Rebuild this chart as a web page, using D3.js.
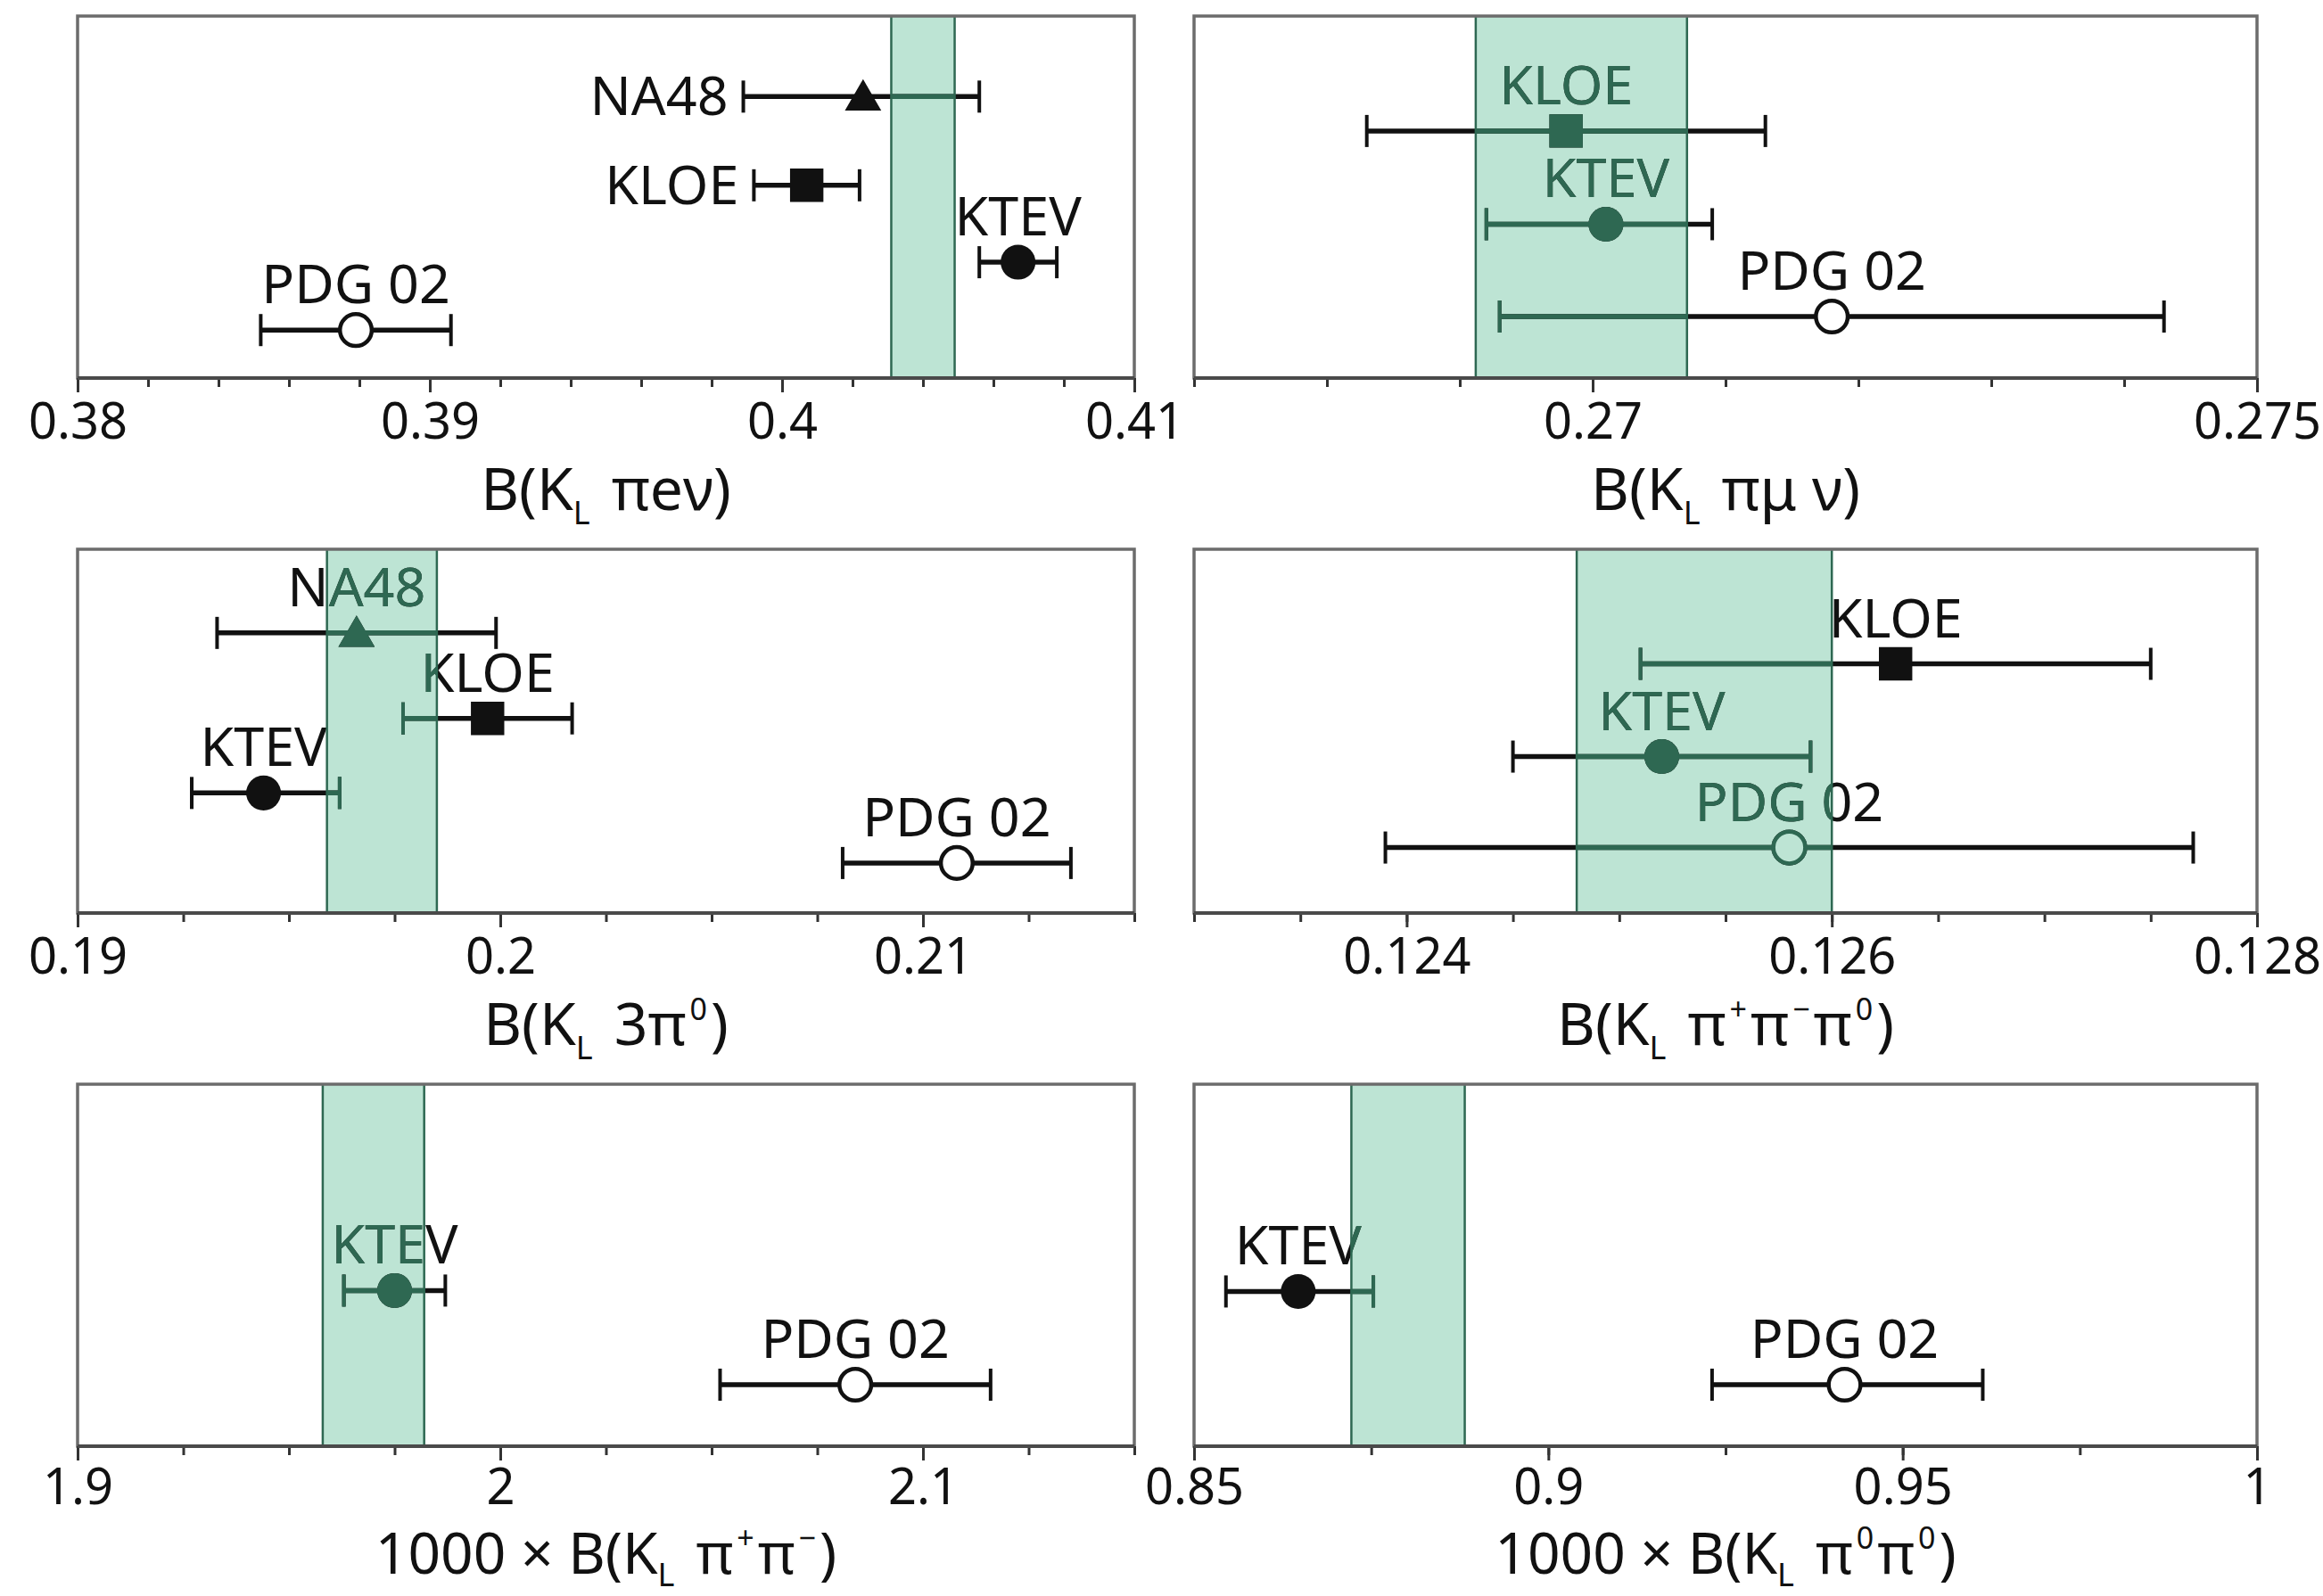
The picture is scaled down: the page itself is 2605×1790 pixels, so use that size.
<!DOCTYPE html>
<html>
<head>
<meta charset="utf-8">
<script src="https://cdn.jsdelivr.net/npm/d3@7"></script>
<style>
  body { margin: 0; background: #fff; }
  text { font-family: "Noto Sans", "Open Sans", sans-serif; white-space: pre; }
</style>
</head>
<body>
<svg id="chart" width="2605" height="1790"></svg>
<script>
// ---- K_L branching ratios: measurements vs. PDG 2002 and the global fit band ----

// B(K_L -> pi e nu)
const keNames = ["NA48", "KLOE", "KTEV", "PDG 02"];
const keValue = [0.4023, 0.4007, 0.4067, 0.3879];
const keLow   = [0.3989, 0.3992, 0.4056, 0.3852];
const keHigh  = [0.4056, 0.4022, 0.4078, 0.3906];
const keRow   = [0.89, 1.87, 2.72, 3.47];
const keFit   = [0.4031, 0.4049];
const keDomain = [0.38, 0.41];
const keMajor  = [0.38, 0.39, 0.40, 0.41];
const keMajorText = ["0.38", "0.39", "0.4", "0.41"];

// B(K_L -> pi mu nu)
const kmNames = ["KLOE", "KTEV", "PDG 02"];
const kmValue = [0.2698, 0.2701, 0.2718];
const kmLow   = [0.2683, 0.2692, 0.2693];
const kmHigh  = [0.2713, 0.2709, 0.2743];
const kmRow   = [1.27, 2.30, 3.32];
const kmFit   = [0.26912, 0.27071];
const kmDomain = [0.267, 0.275];
const kmMajor  = [0.27, 0.275];
const kmMajorText = ["0.27", "0.275"];

// B(K_L -> 3 pi0)
const k3Names = ["NA48", "KLOE", "KTEV", "PDG 02"];
const k3Value = [0.1966, 0.1997, 0.1944, 0.2108];
const k3Low   = [0.1933, 0.1977, 0.1927, 0.2081];
const k3High  = [0.1999, 0.2017, 0.1962, 0.2135];
const k3Row   = [0.92, 1.86, 2.68, 3.45];
const k3Fit   = [0.1959, 0.1985];
const k3Domain = [0.19, 0.215];
const k3Major  = [0.19, 0.20, 0.21];
const k3MajorText = ["0.19", "0.2", "0.21"];

// B(K_L -> pi+ pi- pi0)
const kcNames = ["KLOE", "KTEV", "PDG 02"];
const kcValue = [0.1263, 0.1252, 0.1258];
const kcLow   = [0.1251, 0.1245, 0.1239];
const kcHigh  = [0.1275, 0.1259, 0.1277];
const kcRow   = [1.26, 2.28, 3.28];
const kcFit   = [0.1248, 0.1260];
const kcDomain = [0.123, 0.128];
const kcMajor  = [0.124, 0.126, 0.128];
const kcMajorText = ["0.124", "0.126", "0.128"];

// 1000 x B(K_L -> pi+ pi-)
const kpNames = ["KTEV", "PDG 02"];
const kpValue = [1.975, 2.084];
const kpLow   = [1.963, 2.052];
const kpHigh  = [1.987, 2.116];
const kpRow   = [2.28, 3.32];
const kpFit   = [1.958, 1.982];
const kpDomain = [1.9, 2.15];
const kpMajor  = [1.9, 2.0, 2.1];
const kpMajorText = ["1.9", "2", "2.1"];

// 1000 x B(K_L -> pi0 pi0)
const k0Names = ["KTEV", "PDG 02"];
const k0Value = [0.8647, 0.9418];
const k0Low   = [0.8545, 0.9231];
const k0High  = [0.8753, 0.9613];
const k0Row   = [2.29, 3.32];
const k0Fit   = [0.8722, 0.8882];
const k0Domain = [0.85, 1.0];
const k0Major  = [0.85, 0.90, 0.95, 1.0];
const k0MajorText = ["0.85", "0.9", "0.95", "1"];

// axis titles as [text, role] pieces
const keTitle = [["B(K"], ["L", "sub"], ["πeν)"]];
const kmTitle = [["B(K"], ["L", "sub"], ["πμ ν)"]];
const k3Title = [["B(K"], ["L", "sub"], ["3π"], ["0", "sup"], [")"]];
const kcTitle = [["B(K"], ["L", "sub"], ["π"], ["+", "sup"], ["π"], ["−", "sup"], ["π"], ["0", "sup"], [")"]];
const kpTitle = [["1000 × B(K"], ["L", "sub"], ["π"], ["+", "sup"], ["π"], ["−", "sup"], [")"]];
const k0Title = [["1000 × B(K"], ["L", "sub"], ["π"], ["0", "sup"], ["π"], ["0", "sup"], [")"]];

const panels = [
  { names: keNames, value: keValue, low: keLow, high: keHigh, row: keRow, fit: keFit,
    domain: keDomain, major: keMajor, majorText: keMajorText, minorStep: 0.002, title: keTitle },
  { names: kmNames, value: kmValue, low: kmLow, high: kmHigh, row: kmRow, fit: kmFit,
    domain: kmDomain, major: kmMajor, majorText: kmMajorText, minorStep: 0.001, title: kmTitle },
  { names: k3Names, value: k3Value, low: k3Low, high: k3High, row: k3Row, fit: k3Fit,
    domain: k3Domain, major: k3Major, majorText: k3MajorText, minorStep: 0.0025, title: k3Title },
  { names: kcNames, value: kcValue, low: kcLow, high: kcHigh, row: kcRow, fit: kcFit,
    domain: kcDomain, major: kcMajor, majorText: kcMajorText, minorStep: 0.0005, title: kcTitle },
  { names: kpNames, value: kpValue, low: kpLow, high: kpHigh, row: kpRow, fit: kpFit,
    domain: kpDomain, major: kpMajor, majorText: kpMajorText, minorStep: 0.025, title: kpTitle },
  { names: k0Names, value: k0Value, low: k0Low, high: k0High, row: k0Row, fit: k0Fit,
    domain: k0Domain, major: k0Major, majorText: k0MajorText, minorStep: 0.025, title: k0Title }
];

// ---- layout and styling ----
const columns = [[87, 1272], [1339, 2531]];
const rowsY   = [[18, 424], [616, 1024], [1216, 1622]];
const titleDrop   = [148, 148, 143];   // title baseline below the axis, per row
const titleSize   = [66, 66, 64];
const subDrop     = [16, 16, 14];
const supRise     = 28;
const tickPadding = [12, 12, 9];
const labelledLeft = { 0: ["NA48", "KLOE"] };   // entries labelled beside the bar instead of above

const BAND_FILL = "#bde4d4";
const BAND_INK  = "#2e6852";
const INK = "#111";
const FRAME = "#6c6c6c";

const markerShape = {
  "NA48":   d3.symbolTriangle,
  "KLOE":   d3.symbolSquare,
  "KTEV":   d3.symbolCircle,
  "PDG 02": d3.symbolCircle
};
const markerSize = { "NA48": 720, "KLOE": 1400, "KTEV": 1200, "PDG 02": 1000 };

const svg = d3.select("#chart");
svg.append("rect").attr("width", 2605).attr("height", 1790).attr("fill", "#fff");
const defs = svg.append("defs");

function drawEntries(g, p, idx, x, y, ink, paper) {
  const entries = p.names.map((name, i) => ({
    name, v: p.value[i], lo: p.low[i], hi: p.high[i], row: p.row[i]
  }));
  const leftSet = new Set(labelledLeft[idx] || []);

  // horizontal error bars
  g.selectAll("line.err").data(entries).join("line").attr("class", "err")
    .attr("x1", d => x(d.lo)).attr("x2", d => x(d.hi))
    .attr("y1", d => y(d.row)).attr("y2", d => y(d.row))
    .attr("stroke", ink).attr("stroke-width", 5.5);

  // end caps
  const caps = entries.flatMap(d => [{ v: d.lo, row: d.row }, { v: d.hi, row: d.row }]);
  g.selectAll("line.cap").data(caps).join("line").attr("class", "cap")
    .attr("x1", d => x(d.v)).attr("x2", d => x(d.v))
    .attr("y1", d => y(d.row) - 18).attr("y2", d => y(d.row) + 18)
    .attr("stroke", ink).attr("stroke-width", 4);

  // central value markers
  g.selectAll("path.mark").data(entries).join("path").attr("class", "mark")
    .attr("d", d => d3.symbol().type(markerShape[d.name]).size(markerSize[d.name])())
    .attr("transform", d => `translate(${x(d.v)},${y(d.row) + (d.name === "NA48" ? 4 : 0)})`)
    .attr("fill", d => d.name === "PDG 02" ? paper : ink)
    .attr("stroke", d => d.name === "PDG 02" ? ink : "none")
    .attr("stroke-width", 4.5);

  // experiment labels
  g.selectAll("text.lab").data(entries).join("text").attr("class", "lab")
    .attr("x", d => leftSet.has(d.name) ? x(d.lo) - 17 : x(d.v))
    .attr("y", d => leftSet.has(d.name) ? y(d.row) + 21 : y(d.row) - 30)
    .attr("text-anchor", d => leftSet.has(d.name) ? "end" : "middle")
    .attr("font-size", 61)
    .attr("fill", ink)
    .text(d => d.name);
}

// axis title: one text, subscripts and superscripts as shifted tspans
function drawTitle(g, pieces, cx, baseline, size, sub) {
  const title = g.append("text").attr("x", cx).attr("y", baseline)
    .attr("text-anchor", "middle").attr("font-size", size).attr("fill", INK);
  let shift = 0, prevRole = null;
  pieces.forEach(([t, role]) => {
    const target = role === "sub" ? sub : role === "sup" ? -supRise : 0;
    let dx = 0;
    if (prevRole === "sub") dx = 24;                 // gap after the K_L subscript
    else if (role === "sup" || prevRole === "sup") dx = 4;
    title.append("tspan")
      .attr("dx", dx)
      .attr("dy", target - shift)
      .attr("font-size", role === "sup" ? 34 : role === "sub" ? 36 : size)
      .text(t);
    shift = target;
    prevRole = role;
  });
}

panels.forEach((p, idx) => {
  const r = Math.floor(idx / 2);
  const [x0, x1] = columns[idx % 2];
  const [y0, y1] = rowsY[r];
  const x = d3.scaleLinear().domain(p.domain).range([x0, x1]);
  const y = d3.scaleLinear().domain([0, 4]).range([y0, y1]);
  const g = svg.append("g");

  // fit band
  const bx0 = x(p.fit[0]), bx1 = x(p.fit[1]);
  g.append("rect").attr("x", bx0).attr("y", y0).attr("width", bx1 - bx0).attr("height", y1 - y0)
    .attr("fill", BAND_FILL);

  // measurements
  drawEntries(g.append("g"), p, idx, x, y, INK, "#fff");

  // the same measurements tinted where they cross the band
  const clipId = "band-clip-" + idx;
  defs.append("clipPath").attr("id", clipId)
    .append("rect").attr("x", bx0).attr("y", y0).attr("width", bx1 - bx0).attr("height", y1 - y0);
  drawEntries(g.append("g").attr("clip-path", `url(#${clipId})`), p, idx, x, y, BAND_INK, BAND_FILL);

  // band edges
  g.selectAll("line.edge").data(p.fit).join("line").attr("class", "edge")
    .attr("x1", d => x(d)).attr("x2", d => x(d)).attr("y1", y0).attr("y2", y1)
    .attr("stroke", BAND_INK).attr("stroke-width", 2.5);

  // frame
  g.append("rect").attr("x", x0).attr("y", y0).attr("width", x1 - x0).attr("height", y1 - y0)
    .attr("fill", "none").attr("stroke", FRAME).attr("stroke-width", 3.5);

  // minor ticks
  const minor = d3.range(p.domain[0], p.domain[1] + p.minorStep / 2, p.minorStep);
  const minorAxis = g.append("g").attr("transform", `translate(0,${y1})`)
    .call(d3.axisBottom(x).tickValues(minor).tickSize(10).tickFormat(""));
  minorAxis.select(".domain").remove();
  minorAxis.selectAll(".tick line").attr("stroke", "#333").attr("stroke-width", 3);

  // major ticks with labels
  const majorAxis = g.append("g").attr("transform", `translate(0,${y1})`)
    .call(d3.axisBottom(x).tickValues(p.major).tickSize(16).tickPadding(tickPadding[r])
      .tickFormat((d, i) => p.majorText[i]));
  majorAxis.select(".domain").remove();
  majorAxis.selectAll(".tick line").attr("stroke", "#333").attr("stroke-width", 3);
  majorAxis.selectAll(".tick text").attr("font-size", 56).attr("fill", INK)
    .attr("font-family", "'Noto Sans', sans-serif");

  // bottom axis line
  g.append("line").attr("x1", x0).attr("x2", x1).attr("y1", y1).attr("y2", y1)
    .attr("stroke", "#4a4a4a").attr("stroke-width", 4);

  drawTitle(g, p.title, (x0 + x1) / 2, y1 + titleDrop[r], titleSize[r], subDrop[r]);
});
</script>
</body>
</html>
